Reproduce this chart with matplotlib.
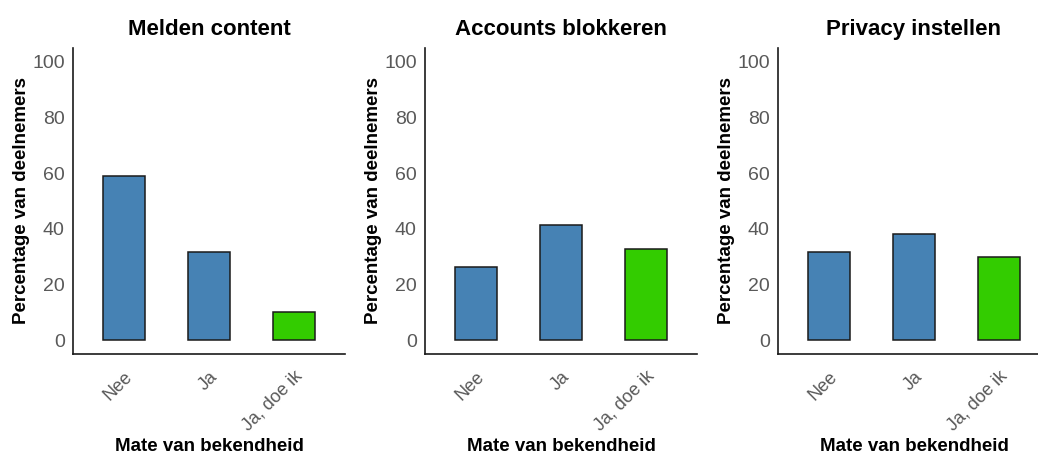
import matplotlib.pyplot as plt
import numpy as np

plt.rcParams['font.family'] = ['Liberation Sans', 'DejaVu Sans']

# data
categories = ['Nee', 'Ja', 'Ja, doe ik']
titles = ['Melden content', 'Accounts blokkeren', 'Privacy instellen']
melden = [59.0, 31.6, 10.0]
blokkeren = [26.4, 41.2, 32.8]
privacy = [31.8, 38.3, 29.9]
bar_colors = ['#4682B4', '#4682B4', '#33CC00']
yticks = [0, 20, 40, 60, 80, 100]

W, H = 1038, 454
fig = plt.figure(figsize=(W / 100, H / 100), dpi=100)

lefts = [73, 425, 778]
for left, title, vals in zip(lefts, titles, [melden, blokkeren, privacy]):
    ax = fig.add_axes([left / W, 100 / H, 272 / W, 306 / H])
    x = np.arange(1, len(categories) + 1)
    ax.bar(x, vals, width=0.5, color=bar_colors, edgecolor='#1a1a1a', linewidth=1.1)
    ax.set_xlim(0.4, 3.6)
    ax.set_ylim(-5, 105)
    ax.set_yticks(yticks)
    ax.set_xticks(x)
    ax.set_xticklabels(categories, rotation=45, ha='right', va='top',
                       rotation_mode='anchor', color='#595959', fontsize=13)
    ax.tick_params(axis='y', labelsize=14, labelcolor='#595959', length=0, pad=6)
    ax.tick_params(axis='x', length=0, pad=10)
    for s in ['top', 'right']:
        ax.spines[s].set_visible(False)
    for s in ['left', 'bottom']:
        ax.spines[s].set_linewidth(1.2)
        ax.spines[s].set_color('#1a1a1a')
    ax.set_title(title, fontsize=16, fontweight='bold', pad=9)
    ax.set_xlabel('Mate van bekendheid', fontsize=13.5, fontweight='bold', labelpad=2.5)
    ax.set_ylabel('Percentage van deelnemers', fontsize=13.5, fontweight='bold', labelpad=1.5)

fig.savefig('out.png', dpi=100)
